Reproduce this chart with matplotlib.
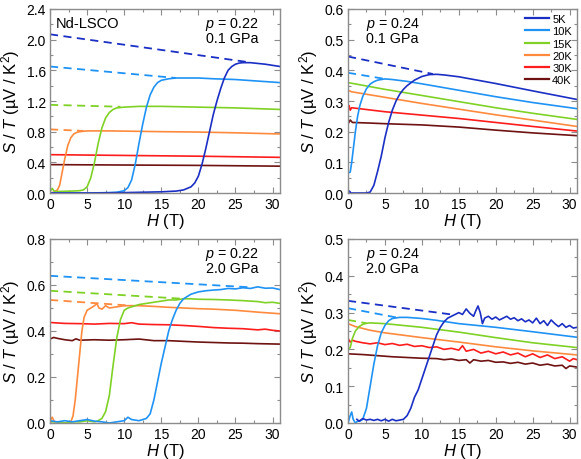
import matplotlib
matplotlib.use("Agg")
import matplotlib.pyplot as plt
from matplotlib.ticker import MultipleLocator, AutoMinorLocator

plt.rcParams["font.family"] = ["Liberation Sans", "DejaVu Sans"]
plt.rcParams["mathtext.fontset"] = "custom"
plt.rcParams["mathtext.rm"] = "Liberation Sans"
plt.rcParams["mathtext.it"] = "Liberation Sans:italic"

temps = ["5K", "10K", "15K", "20K", "30K", "40K"]
colors = ["#1b2fc4", "#1f93f5", "#7fd225", "#ff8a3d", "#ff1c1c", "#6e1212"]

# ---- panel a: p = 0.22, 0.1 GPa ----
a_5k_h = [0, 5, 10, 15, 17, 18, 19, 19.5, 20, 20.5, 21, 21.5, 22, 22.5, 23, 23.5, 24, 24.5, 25, 25.5, 26, 27, 28, 29, 30, 31]
a_5k_s = [0.0, 0.0, 0.005, 0.015, 0.025, 0.04, 0.08, 0.13, 0.22, 0.38, 0.58, 0.8, 1.02, 1.2, 1.36, 1.5, 1.6, 1.65, 1.68, 1.695, 1.70, 1.70, 1.69, 1.68, 1.665, 1.65]
a_10k_h = [0, 5, 8, 9, 10, 10.5, 11, 11.5, 12, 12.5, 13, 13.5, 14, 14.5, 15, 16, 17, 20, 22, 25, 28, 31]
a_10k_s = [0.0, 0.0, 0.005, 0.01, 0.03, 0.07, 0.17, 0.38, 0.65, 0.9, 1.12, 1.28, 1.38, 1.44, 1.47, 1.49, 1.50, 1.50, 1.49, 1.48, 1.46, 1.44]
a_15k_h = [0, 0.3, 0.6, 1, 3, 4, 4.5, 5, 5.5, 6, 6.5, 7, 7.5, 8, 8.5, 9, 10, 12, 15, 20, 25, 31]
a_15k_s = [0.02, 0.06, 0.02, 0.02, 0.025, 0.03, 0.04, 0.08, 0.2, 0.4, 0.65, 0.85, 0.98, 1.05, 1.09, 1.11, 1.12, 1.13, 1.13, 1.12, 1.11, 1.09]
a_20k_h = [0, 0.5, 1, 1.3, 1.6, 2, 2.4, 2.8, 3.2, 3.6, 4, 5, 8, 15, 20, 25, 31]
a_20k_s = [0.0, 0.01, 0.04, 0.1, 0.25, 0.45, 0.62, 0.72, 0.77, 0.79, 0.80, 0.81, 0.81, 0.80, 0.795, 0.785, 0.77]
a_30k_h = [0, 10, 20, 31]
a_30k_s = [0.50, 0.49, 0.48, 0.465]
a_40k_h = [0, 10, 20, 31]
a_40k_s = [0.37, 0.365, 0.36, 0.35]
a_dash_h = [[0, 26.5], [0, 17], [0, 9.5], [0, 4.5]]
a_dash_s = [[2.07, 1.71], [1.65, 1.50], [1.15, 1.125], [0.83, 0.81]]

# ---- panel b: p = 0.24, 0.1 GPa ----
b_5k_h = [0, 0.2, 0.4, 1, 2.5, 3, 3.5, 4, 4.5, 5, 5.5, 6, 6.5, 7, 7.5, 8, 9, 10, 11, 12, 13, 15, 20, 25, 31]
b_5k_s = [0.0, 0.006, 0.0, 0.0, 0.0, 0.003, 0.025, 0.07, 0.12, 0.18, 0.23, 0.27, 0.30, 0.322, 0.338, 0.35, 0.368, 0.38, 0.386, 0.387, 0.385, 0.379, 0.357, 0.333, 0.305]
b_10k_h = [0, 0.3, 0.5, 0.8, 1.0, 1.3, 1.6, 2, 2.5, 3, 3.5, 4, 5, 6, 8, 10, 15, 20, 25, 31]
b_10k_s = [0.065, 0.068, 0.1, 0.16, 0.2, 0.25, 0.285, 0.315, 0.34, 0.355, 0.363, 0.368, 0.372, 0.37, 0.364, 0.356, 0.335, 0.314, 0.295, 0.275]
b_15k_h = [0, 5, 10, 15, 20, 25, 31]
b_15k_s = [0.36, 0.338, 0.318, 0.298, 0.278, 0.26, 0.24]
b_20k_h = [0, 0.5, 5, 10, 20, 31]
b_20k_s = [0.335, 0.33, 0.312, 0.292, 0.255, 0.217]
b_30k_h = [0, 0.15, 0.3, 0.5, 5, 10, 15, 20, 25, 31]
b_30k_s = [0.275, 0.285, 0.27, 0.278, 0.265, 0.254, 0.243, 0.23, 0.217, 0.202]
b_40k_h = [0, 0.3, 0.6, 3, 5, 10, 15, 20, 25, 31]
b_40k_s = [0.225, 0.238, 0.23, 0.228, 0.226, 0.222, 0.215, 0.205, 0.196, 0.187]
b_dash_h = [[0, 11.5], [0, 5]]
b_dash_s = [[0.445, 0.388], [0.392, 0.372]]

# ---- panel c: p = 0.22, 2.0 GPa ----
c_10k_h = [0, 1, 2, 3, 4, 5, 6, 7, 8, 9, 10, 10.5, 11, 12, 12.5, 13, 13.5, 14, 14.5, 15, 15.5, 16, 16.5, 17, 17.5, 18, 19, 20, 21, 22, 23, 24, 25, 26, 27, 28, 29, 30, 31]
c_10k_s = [0.01, 0.005, 0.01, 0.005, 0.01, 0.015, 0.008, 0.005, 0.0, 0.005, 0.01, 0.025, 0.015, 0.01, 0.015, 0.02, 0.04, 0.1, 0.18, 0.26, 0.33, 0.40, 0.45, 0.49, 0.52, 0.54, 0.56, 0.57, 0.575, 0.578, 0.58, 0.585, 0.583, 0.588, 0.585, 0.592, 0.586, 0.587, 0.58]
c_15k_h = [0, 1, 2, 3, 4, 5, 6, 6.5, 7, 7.5, 8, 8.5, 9, 9.5, 10, 10.5, 11, 12, 13, 14, 15, 16, 17, 18, 19, 20, 22, 24, 26, 28, 29, 30, 31]
c_15k_s = [0.005, 0.005, 0.0, 0.005, 0.005, 0.01, 0.005, 0.01, 0.02, 0.05, 0.12, 0.25, 0.37, 0.45, 0.49, 0.50, 0.505, 0.515, 0.52, 0.525, 0.53, 0.535, 0.535, 0.54, 0.54, 0.538, 0.537, 0.535, 0.532, 0.528, 0.523, 0.525, 0.52]
c_20k_h = [0, 0.3, 0.6, 1, 2, 2.8, 3.1, 3.4, 3.7, 4, 4.3, 4.6, 5, 5.5, 6, 6.3, 6.6, 7, 7.5, 8, 9, 10, 11, 12, 14, 16, 18, 20, 22, 25, 28, 31]
c_20k_s = [0.01, 0.025, 0.005, 0.005, 0.0, 0.005, 0.03, 0.1, 0.2, 0.3, 0.4, 0.46, 0.49, 0.50, 0.51, 0.52, 0.50, 0.495, 0.51, 0.50, 0.505, 0.51, 0.51, 0.51, 0.507, 0.503, 0.50, 0.497, 0.495, 0.49, 0.482, 0.475]
c_30k_h = [0, 2, 4, 6, 8, 10, 11, 12, 14, 16, 18, 20, 22, 24, 26, 28, 29, 30, 31]
c_30k_s = [0.437, 0.433, 0.432, 0.43, 0.433, 0.432, 0.436, 0.43, 0.428, 0.427, 0.424, 0.42, 0.415, 0.412, 0.41, 0.405, 0.408, 0.403, 0.40]
c_40k_h = [0, 0.5, 1, 2, 3, 3.5, 4, 6, 8, 10, 12, 14, 16, 18, 20, 22, 24, 26, 28, 31]
c_40k_s = [0.365, 0.372, 0.368, 0.362, 0.358, 0.366, 0.36, 0.362, 0.36, 0.362, 0.365, 0.358, 0.358, 0.355, 0.352, 0.35, 0.348, 0.347, 0.345, 0.343]
c_dash_h = [[0, 27], [0, 18], [0, 11]]
c_dash_s = [[0.64, 0.59], [0.575, 0.54], [0.535, 0.51]]

# ---- panel d: p = 0.24, 2.0 GPa ----
d_5k_h = [1.2, 1.5, 2, 2.5, 3, 3.5, 4, 4.5, 5, 5.5, 6, 6.5, 7, 7.5, 8, 8.5, 9, 9.5, 10, 10.5, 11, 11.5, 12, 12.5, 13, 13.5, 14, 14.5, 15, 15.5, 16, 16.5, 17, 17.3, 17.6, 17.9, 18.2, 18.5, 19, 19.5, 20, 20.5, 21, 21.5, 22, 22.5, 23, 23.5, 24, 24.5, 25, 25.5, 26, 26.5, 27, 27.5, 28, 28.5, 29, 29.5, 30, 30.5, 31]
d_5k_s = [0.01, 0.005, 0.012, 0.008, 0.01, 0.007, 0.01, 0.006, 0.01, 0.005, 0.01, 0.006, 0.008, 0.01, 0.02, 0.04, 0.07, 0.09, 0.12, 0.15, 0.18, 0.21, 0.24, 0.26, 0.275, 0.285, 0.29, 0.295, 0.30, 0.295, 0.31, 0.298, 0.29, 0.305, 0.318, 0.30, 0.27, 0.285, 0.29, 0.282, 0.288, 0.28, 0.285, 0.29, 0.282, 0.286, 0.278, 0.283, 0.275, 0.28, 0.272, 0.285, 0.27, 0.278, 0.265, 0.28, 0.27, 0.262, 0.27, 0.26, 0.265, 0.258, 0.26]
d_10k_h = [0, 0.3, 0.5, 0.7, 1.0, 1.3, 1.6, 2, 2.5, 3, 3.5, 4, 4.5, 5, 5.5, 6, 7, 8, 10, 12, 15, 20, 25, 31]
d_10k_s = [0.0, 0.02, 0.03, 0.01, 0.0, 0.005, 0.005, 0.01, 0.04, 0.1, 0.16, 0.21, 0.245, 0.265, 0.278, 0.284, 0.287, 0.287, 0.284, 0.279, 0.27, 0.26, 0.248, 0.233]
d_15k_h = [0, 0.3, 0.6, 1, 1.5, 2, 2.5, 3, 5, 10, 15, 20, 25, 31]
d_15k_s = [0.20, 0.205, 0.23, 0.25, 0.262, 0.268, 0.271, 0.272, 0.27, 0.26, 0.247, 0.232, 0.218, 0.205]
d_20k_h = [0, 1, 3, 5, 10, 15, 20, 25, 31]
d_20k_s = [0.27, 0.262, 0.252, 0.245, 0.232, 0.22, 0.207, 0.196, 0.185]
d_30k_h = [0, 0.3, 0.6, 1, 2, 3, 4, 5, 6, 7, 8, 9, 10, 11, 12, 13, 14, 15, 15.5, 16, 17, 18, 19, 20, 21, 22, 23, 24, 25, 26, 27, 28, 29, 30, 30.5, 31]
d_30k_s = [0.23, 0.22, 0.225, 0.222, 0.218, 0.215, 0.218, 0.213, 0.216, 0.211, 0.214, 0.208, 0.21, 0.205, 0.207, 0.20, 0.203, 0.198, 0.21, 0.195, 0.20, 0.19, 0.195, 0.188, 0.193, 0.185, 0.19, 0.18, 0.188, 0.178, 0.185, 0.175, 0.18, 0.168, 0.175, 0.172]
d_40k_h = [0, 2, 4, 6, 8, 10, 12, 13, 14, 15, 16, 16.5, 17, 18, 19, 20, 21, 22, 23, 24, 25, 26, 27, 28, 29, 29.5, 30, 31]
d_40k_s = [0.188, 0.186, 0.183, 0.18, 0.178, 0.176, 0.175, 0.172, 0.174, 0.17, 0.172, 0.163, 0.172, 0.168, 0.17, 0.165, 0.166, 0.162, 0.165, 0.16, 0.163, 0.157, 0.16, 0.155, 0.157, 0.148, 0.155, 0.152]
d_dash_h = [[0, 14], [0, 6.5], [0, 2.5]]
d_dash_s = [[0.332, 0.295], [0.312, 0.287], [0.28, 0.271]]

panels = [
    dict(curves=[(a_5k_h, a_5k_s), (a_10k_h, a_10k_s), (a_15k_h, a_15k_s), (a_20k_h, a_20k_s), (a_30k_h, a_30k_s), (a_40k_h, a_40k_s)],
         dash=(a_dash_h, a_dash_s), dash_colors=[0, 1, 2, 3], ymax=2.4, ystep=0.4,
         label=("$p$ = 0.22", "0.1 GPa"), right=True),
    dict(curves=[(b_5k_h, b_5k_s), (b_10k_h, b_10k_s), (b_15k_h, b_15k_s), (b_20k_h, b_20k_s), (b_30k_h, b_30k_s), (b_40k_h, b_40k_s)],
         dash=(b_dash_h, b_dash_s), dash_colors=[0, 1], ymax=0.6, ystep=0.1,
         label=("$p$ = 0.24", "0.1 GPa"), right=False),
    dict(curves=[None, (c_10k_h, c_10k_s), (c_15k_h, c_15k_s), (c_20k_h, c_20k_s), (c_30k_h, c_30k_s), (c_40k_h, c_40k_s)],
         dash=(c_dash_h, c_dash_s), dash_colors=[1, 2, 3], ymax=0.8, ystep=0.2,
         label=("$p$ = 0.22", "2.0 GPa"), right=True),
    dict(curves=[(d_5k_h, d_5k_s), (d_10k_h, d_10k_s), (d_15k_h, d_15k_s), (d_20k_h, d_20k_s), (d_30k_h, d_30k_s), (d_40k_h, d_40k_s)],
         dash=(d_dash_h, d_dash_s), dash_colors=[0, 1, 2], ymax=0.5, ystep=0.1,
         label=("$p$ = 0.24", "2.0 GPa"), right=False),
]

fig = plt.figure(figsize=(5.81, 4.6), dpi=100)
rects = [
    [50 / 581, 266 / 460, 230 / 581, 184 / 460],
    [348 / 581, 266 / 460, 229 / 581, 184 / 460],
    [50 / 581, 36 / 460, 230 / 581, 184 / 460],
    [348 / 581, 36 / 460, 229 / 581, 184 / 460],
]
frame = "#8c8c8c"

for i, (p, r) in enumerate(zip(panels, rects)):
    ax = fig.add_axes(r)
    dh, ds = p["dash"]
    for k, ci in enumerate(p["dash_colors"]):
        ax.plot(dh[k], ds[k], color=colors[ci], lw=1.3, ls=(0, (4.5, 3)))
    for j in range(5, -1, -1):
        c = p["curves"][j]
        if c is None:
            continue
        ax.plot(c[0], c[1], color=colors[j], lw=1.2, label=temps[j])
    ax.set_xlim(0, 31)
    ax.set_ylim(0, p["ymax"])
    ax.xaxis.set_major_locator(MultipleLocator(5))
    ax.xaxis.set_minor_locator(AutoMinorLocator(2))
    ax.yaxis.set_major_locator(MultipleLocator(p["ystep"]))
    ax.yaxis.set_minor_locator(AutoMinorLocator(2))
    ax.yaxis.set_major_formatter(matplotlib.ticker.FormatStrFormatter("%.1f"))
    ax.tick_params(which="both", direction="in", top=True, right=True, color=frame,
                   labelsize=10, labelcolor="black", pad=3)
    ax.tick_params(which="major", length=4, width=0.8)
    ax.tick_params(which="minor", length=2, width=0.8)
    for sp in ax.spines.values():
        sp.set_color(frame)
        sp.set_linewidth(1.0)
    ax.set_xlabel("$H$ (T)", fontsize=12, labelpad=0)
    ax.set_ylabel(r"$S$ / $T$ (µV / K$^2$)", fontsize=12, labelpad=3)
    if p["right"]:
        xt, ha = 0.905, "right"
    else:
        xt, ha = 0.078, "left"
    ax.text(xt, 0.92, p["label"][0], transform=ax.transAxes, ha=ha, va="center", fontsize=10.3)
    ax.text(xt, 0.843, p["label"][1], transform=ax.transAxes, ha=ha, va="center", fontsize=10.3)
    if i == 0:
        ax.text(0.025, 0.925, "Nd-LSCO", transform=ax.transAxes, ha="left", va="center", fontsize=10.5)
    if i == 1:
        handles, labels = ax.get_legend_handles_labels()
        leg = ax.legend(handles[::-1], labels[::-1], loc="upper left", bbox_to_anchor=(0.773, 0.972),
                        frameon=False, fontsize=8, handlelength=2.2, handletextpad=0.25,
                        labelspacing=0.2, borderpad=0, borderaxespad=0)
        for lh in leg.get_lines():
            lh.set_linewidth(1.6)

fig.savefig("out.png", dpi=100)
